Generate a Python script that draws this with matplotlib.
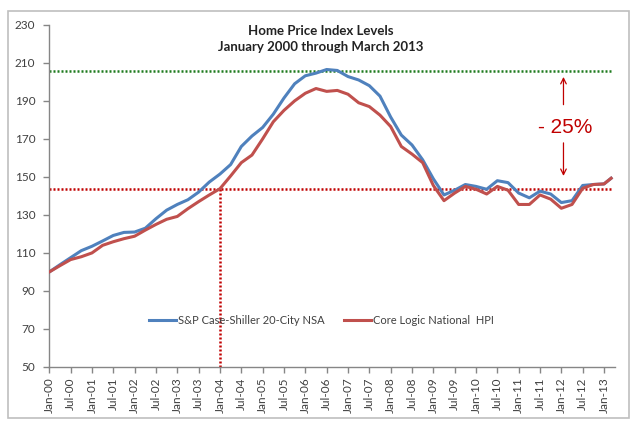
import matplotlib
matplotlib.use('Agg')
import matplotlib.pyplot as plt
from matplotlib.patches import Rectangle

plt.rcParams['font.family'] = ['Lato', 'DejaVu Sans']

# month offsets from Jan 2000 (quarterly readings, last one is Mar 2013)
months = [0, 3, 6, 9, 12, 15, 18, 21, 24, 27, 30, 33, 36, 39, 42, 45, 48, 51,
          54, 57, 60, 63, 66, 69, 72, 75, 78, 81, 84, 87, 90, 93, 96, 99, 102,
          105, 108, 111, 114, 117, 120, 123, 126, 129, 132, 135, 138, 141, 144,
          147, 150, 153, 156, 158]

case_shiller = [100, 103.8, 107.5, 111.2, 113.5, 116.3, 119.2, 120.8, 121.0,
                123.0, 128.0, 132.5, 135.5, 138.0, 142.0, 147.3, 151.5, 156.5,
                166.0, 171.5, 176.0, 183.0, 191.5, 199.0, 203.2, 204.6, 206.5,
                206.0, 202.8, 201.0, 198.0, 192.5, 181.5, 172.0, 166.8, 159.0,
                149.0, 140.5, 143.0, 146.0, 145.0, 143.5, 148.0, 147.0, 141.5,
                139.0, 142.5, 141.0, 136.5, 137.5, 145.5, 146.0, 146.3, 149.3]

core_logic = [100, 103.3, 106.5, 108.0, 110.0, 114.0, 115.9, 117.5, 118.8,
              122.0, 125.0, 127.7, 129.2, 133.3, 137.0, 140.5, 143.8, 150.5,
              157.5, 161.5, 170.0, 179.0, 185.0, 190.0, 194.0, 196.5, 195.0,
              195.5, 193.5, 189.0, 187.0, 182.5, 176.5, 166.0, 162.0, 157.5,
              145.5, 137.5, 141.5, 145.0, 143.5, 141.0, 145.0, 143.0, 135.5,
              135.5, 140.5, 138.3, 133.5, 135.5, 144.0, 146.0, 146.3, 149.3]

tick_labels = ['Jan-00', 'Jul-00', 'Jan-01', 'Jul-01', 'Jan-02', 'Jul-02',
               'Jan-03', 'Jul-03', 'Jan-04', 'Jul-04', 'Jan-05', 'Jul-05',
               'Jan-06', 'Jul-06', 'Jan-07', 'Jul-07', 'Jan-08', 'Jul-08',
               'Jan-09', 'Jul-09', 'Jan-10', 'Jul-10', 'Jan-11', 'Jul-11',
               'Jan-12', 'Jul-12', 'Jan-13']

peak_level = 205.8
current_level = 143.8
crossing_month = 48

fig = plt.figure(figsize=(6.4, 4.32), dpi=100)
ax = fig.add_axes([0.077, 0.1505, 0.884, 0.792])

# outer frame
fig.patches.append(Rectangle((8 / 640, 14 / 432), 621 / 640, 407 / 432,
                             transform=fig.transFigure, fill=False,
                             edgecolor='#BFBFBF', linewidth=1.2))

ax.plot(months, case_shiller, color='#4F81BD', lw=2.2,
        label='S&P Case-Shiller 20-City NSA', zorder=3)
ax.plot(months, core_logic, color='#C0504D', lw=2.2,
        label='Core Logic National  HPI', zorder=3)

# reference lines
ax.plot([0, 158.3], [peak_level, peak_level], color='#1E7B1E', lw=1.8,
        linestyle=(0, (0.8, 0.8)), zorder=2)
ax.plot([0, 158.3], [current_level, current_level], color='#C00000', lw=1.8,
        linestyle=(0, (0.8, 0.8)), zorder=2)
ax.plot([crossing_month, crossing_month], [50, current_level], color='#C00000',
        lw=1.8, linestyle=(0, (0.8, 0.8)), zorder=2)

# -25% annotation
arrow = dict(arrowstyle='->', color='#C00000', lw=0.9, shrinkA=0, shrinkB=0)
ax.annotate('', xy=(144.6, 202.6), xytext=(144.6, 188.0), arrowprops=arrow)
ax.annotate('', xy=(144.6, 150.5), xytext=(144.6, 167.9), arrowprops=arrow)
ax.text(145.2, 175.8, '- 25%', color='#C00000', fontsize=15,
        ha='center', va='center', family=['Liberation Sans', 'DejaVu Sans'])

ax.set_xlim(0, 159.1)
ax.set_ylim(50, 230)
ax.set_yticks(range(50, 231, 20))
ax.set_xticks(range(0, 157, 6))
ax.set_xticklabels(tick_labels, rotation=90)

for side in ['top', 'right']:
    ax.spines[side].set_visible(False)
for side in ['left', 'bottom']:
    ax.spines[side].set_color('#868686')
    ax.spines[side].set_linewidth(1.0)
ax.tick_params(axis='both', colors='#868686', length=4, width=1.0,
               labelcolor='#404040', labelsize=8.5)
ax.tick_params(axis='y', pad=6)

ax.text(0.48, 1.0, 'Home Price Index Levels\nJanuary 2000 through March 2013',
        transform=ax.transAxes, ha='center', va='top', fontsize=9.5,
        fontweight='bold', color='#222222', linespacing=1.45)

ax.legend(loc='center', bbox_to_anchor=(0.481, 0.137), ncol=2, frameon=False,
          fontsize=8, handlelength=2.4, handletextpad=0.15, columnspacing=1.8,
          labelcolor='#404040')

fig.savefig('out.png', dpi=100)
